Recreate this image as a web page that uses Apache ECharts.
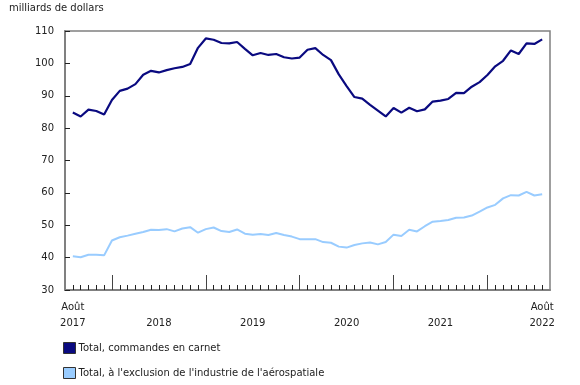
<!DOCTYPE html>
<html>
<head>
<meta charset="utf-8">
<script src="https://cdn.jsdelivr.net/npm/echarts@6/dist/echarts.min.js"></script>
<style>
html,body{margin:0;padding:0;background:#fff;}
#chart{width:580px;height:385px;}
</style>
</head>
<body>
<div id="chart"></div>
<script>
// Months Aug 2017 .. Aug 2022
const months = [];
(function(){
  const names = ['Janv','Févr','Mars','Avr','Mai','Juin','Juil','Août','Sept','Oct','Nov','Déc'];
  let y = 2017, m = 7;
  for (let i = 0; i < 61; i++) {
    months.push(names[m] + ' ' + y);
    m++; if (m > 11) { m = 0; y++; }
  }
})();

const seriesNames = ['Total, commandes en carnet', "Total, à l'exclusion de l'industrie de l'aérospatiale"];

const backlogTotal = [
  84.8, 83.6, 85.7, 85.3, 84.2, 88.7, 91.5, 92.2, 93.6, 96.5,
  97.7, 97.2, 97.9, 98.5, 98.9, 99.8, 104.8, 107.7, 107.3, 106.3,
  106.2, 106.6, 104.5, 102.5, 103.2, 102.6, 102.9, 101.9, 101.5, 101.8,
  104.2, 104.7, 102.6, 101.0, 96.6, 93.0, 89.6, 89.1, 87.2, 85.4,
  83.6, 86.2, 84.8, 86.3, 85.2, 85.8, 88.2, 88.5, 89.0, 90.9,
  90.8, 92.8, 94.2, 96.4, 99.1, 100.8, 104.0, 102.9, 106.2, 106.0,
  107.4
];

const backlogExclAero = [
  40.4, 40.1, 40.9, 40.9, 40.7, 45.3, 46.3, 46.8, 47.4, 47.9,
  48.6, 48.5, 48.8, 48.1, 49.0, 49.4, 47.7, 48.8, 49.3, 48.2,
  47.9, 48.7, 47.4, 47.1, 47.3, 47.0, 47.6, 47.0, 46.5, 45.7,
  45.7, 45.7, 44.8, 44.6, 43.4, 43.1, 43.9, 44.4, 44.7, 44.1,
  44.8, 47.1, 46.7, 48.6, 48.1, 49.7, 51.1, 51.3, 51.6, 52.3,
  52.4, 53.0, 54.2, 55.5, 56.3, 58.3, 59.3, 59.2, 60.3, 59.2,
  59.6
];

// x tick labels: month index -> label text
const xLabels = {0: 'Août\n2017', 11: '\n2018', 23: '\n2019', 35: '\n2020', 47: '\n2021', 60: 'Août\n2022'};
// Year boundary (January) month indexes for the long ticks
const yearTicks = [5, 17, 29, 41, 53];

const yTitle = 'milliards de dollars';
const yMin = 30, yMax = 110, yStep = 10;

// padded category axis: one empty slot each side
const cats = [''].concat(months, ['']);
const pad = v => [null].concat(v, [null]);

const FONT = 'DejaVu Sans';
const chart = echarts.init(document.getElementById('chart'), null, {renderer: 'canvas'});
chart.setOption({
  animation: false,
  textStyle: {fontFamily: FONT},
  title: {
    text: yTitle, left: 9, top: 3, padding: 0,
    textStyle: {fontFamily: FONT, fontSize: 10, fontWeight: 'normal', color: '#222'}
  },
  grid: {left: 65, right: 30, top: 31, bottom: 95, show: true, borderColor: '#808080', borderWidth: 1.5, backgroundColor: 'transparent'},
  legend: {
    orient: 'vertical', left: 63, top: 342, padding: 0, itemWidth: 12, itemHeight: 11, itemGap: 13,
    icon: 'rect',
    itemStyle: {borderColor: '#333', borderWidth: 1},
    textStyle: {fontFamily: FONT, fontSize: 10, color: '#222', padding: [0, 0, 0, -2]},
    data: seriesNames
  },
  xAxis: [{
    type: 'category', data: cats, boundaryGap: false,
    axisLine: {show: true, lineStyle: {color: '#808080', width: 2}},
    axisTick: {show: true, inside: true, length: 5, lineStyle: {color: '#222', width: 1},
      interval: (i) => i >= 1 && i <= months.length},
    axisLabel: {
      interval: (i) => xLabels[i - 1] !== undefined,
      formatter: (v, i) => xLabels[i - 1] || '',
      fontFamily: FONT, fontSize: 10, color: '#222', lineHeight: 16, margin: 9
    },
    splitLine: {show: false}
  }, {
    type: 'category', data: cats, boundaryGap: false, position: 'bottom',
    axisLine: {show: false},
    axisTick: {show: true, inside: true, length: 15, lineStyle: {color: '#444', width: 1},
      interval: (i) => yearTicks.indexOf(i - 1) >= 0},
    axisLabel: {show: false},
    splitLine: {show: false}
  }],
  yAxis: {
    type: 'value', min: yMin, max: yMax, interval: yStep,
    axisLine: {show: true, lineStyle: {color: '#808080', width: 2}},
    axisTick: {show: true, inside: true, length: 5, lineStyle: {color: '#222'}},
    axisLabel: {fontFamily: FONT, fontSize: 10, color: '#222', margin: 11},
    splitLine: {show: false}
  },
  series: [{
    name: seriesNames[0], type: 'line', data: pad(backlogTotal), xAxisIndex: 0,
    showSymbol: false, symbol: 'none',
    lineStyle: {color: '#0a0a80', width: 2.2},
    itemStyle: {color: '#0a0a80'}
  }, {
    name: seriesNames[1], type: 'line', data: pad(backlogExclAero), xAxisIndex: 0,
    showSymbol: false, symbol: 'none',
    lineStyle: {color: '#99ccff', width: 2},
    itemStyle: {color: '#99ccff'}
  }]
});
</script>
</body>
</html>
